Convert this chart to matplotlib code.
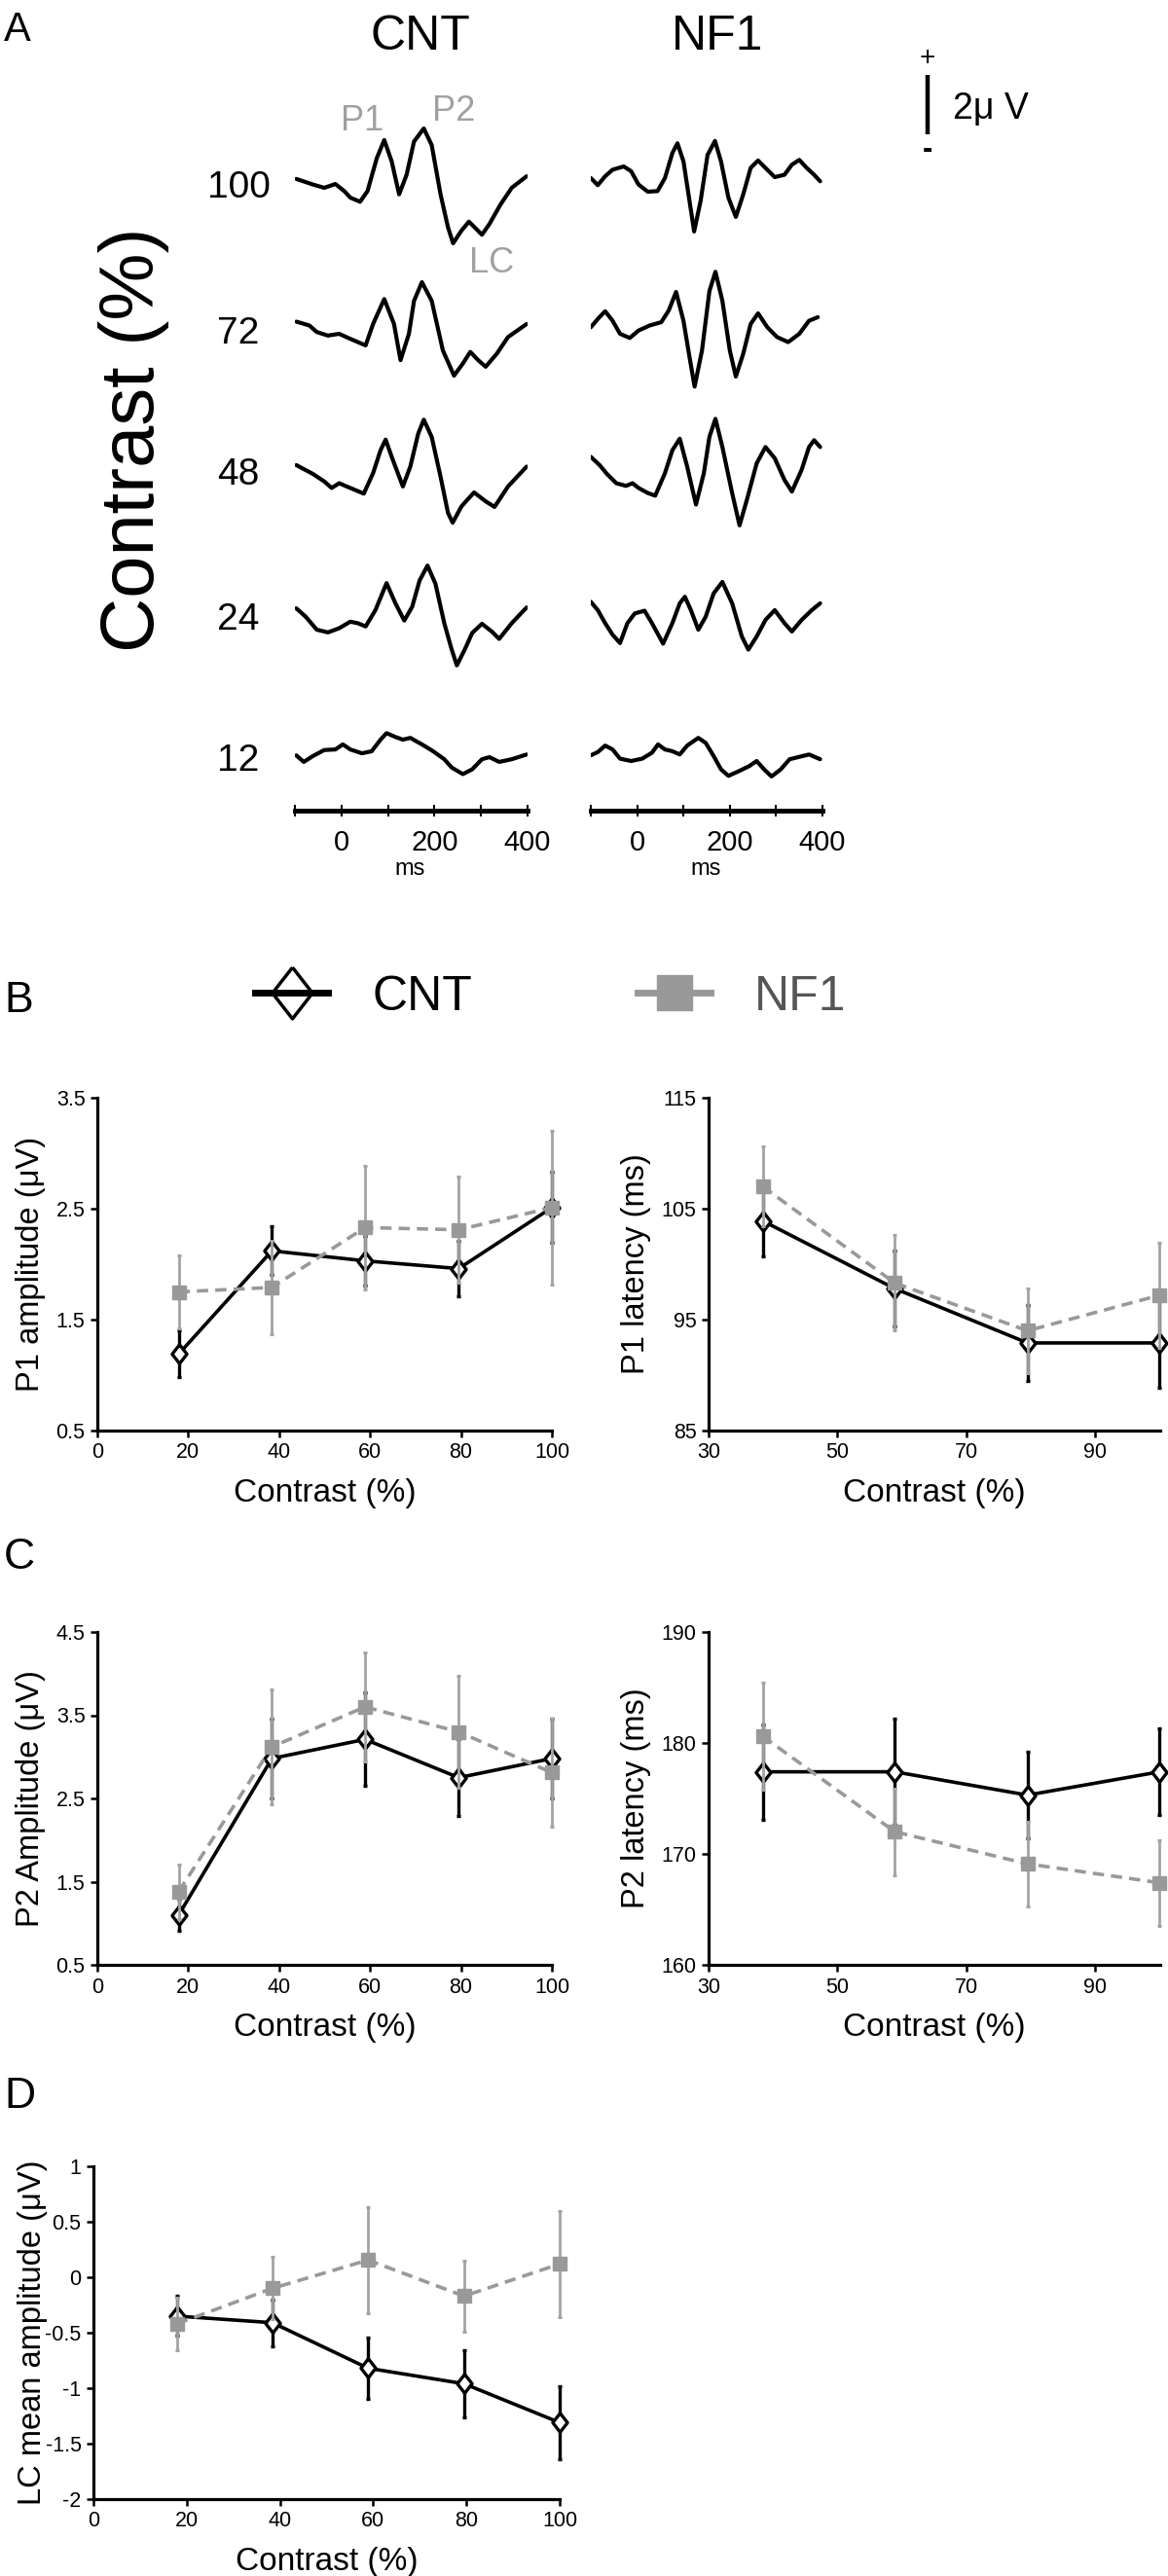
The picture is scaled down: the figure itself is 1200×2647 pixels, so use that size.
import matplotlib
matplotlib.use("Agg")
import matplotlib.pyplot as plt
from matplotlib.lines import Line2D

plt.rcParams['font.family'] = ['Liberation Sans', 'DejaVu Sans']
plt.rcParams['axes.unicode_minus'] = False

# ---------------- DATA ----------------
# Panel A: grand-average waveforms, (time ms, amplitude uV)
contrast_levels = ['100', '72', '48', '24', '12']
CNT_100 = [(-97, 0.30), (-61, 0.11), (-37, 0.0), (-13, 0.13), (6, -0.11), (19, -0.33), (40, -0.47), (56, -0.11),
           (76, 1.0), (92, 1.61), (108, 0.89), (124, -0.22), (140, 0.44), (156, 1.56), (177, 2.0), (194, 1.44),
           (213, -0.22), (229, -1.33), (240, -1.87), (258, -1.44), (274, -1.14), (290, -1.39), (302, -1.58),
           (318, -1.22), (342, -0.56), (366, 0.0), (398, 0.39)]
CNT_72 = [(-97, 0.41), (-69, 0.28), (-53, 0.06), (-29, -0.06), (-5, 0.0), (19, -0.17), (52, -0.39), (68, 0.33),
          (92, 1.17), (113, 0.33), (127, -0.89), (145, 0.0), (156, 1.11), (173, 1.74), (194, 1.11), (218, -0.56),
          (242, -1.41), (261, -1.0), (277, -0.61), (294, -0.89), (310, -1.11), (334, -0.67), (358, -0.11),
          (398, 0.33)]
CNT_48 = [(-97, 0.33), (-61, 0.03), (-37, -0.22), (-21, -0.44), (-5, -0.28), (19, -0.44), (48, -0.63), (68, 0.06),
          (84, 0.83), (95, 1.19), (108, 0.61), (132, -0.39), (148, 0.28), (165, 1.39), (177, 1.86), (194, 1.28),
          (213, -0.06), (229, -1.28), (239, -1.61), (258, -1.06), (285, -0.59), (310, -0.89), (329, -1.08),
          (358, -0.39), (398, 0.28)]
CNT_24 = [(-97, 0.39), (-77, 0.11), (-53, -0.33), (-29, -0.42), (-5, -0.28), (19, -0.06), (35, -0.11), (52, -0.22),
          (73, 0.33), (97, 1.24), (116, 0.56), (135, -0.02), (152, 0.44), (168, 1.33), (185, 1.83), (202, 1.22),
          (221, -0.11), (237, -1.0), (248, -1.53), (265, -1.0), (281, -0.44), (302, -0.13), (323, -0.39),
          (339, -0.64), (366, -0.11), (398, 0.42)]
CNT_12 = [(-97, 0.19), (-81, -0.03), (-61, 0.17), (-37, 0.37), (-13, 0.39), (3, 0.56), (19, 0.39), (44, 0.26),
          (65, 0.33), (84, 0.72), (97, 0.94), (116, 0.81), (132, 0.72), (148, 0.78), (173, 0.56), (197, 0.33),
          (221, 0.06), (237, -0.22), (261, -0.44), (281, -0.28), (302, 0.06), (318, 0.13), (339, -0.03),
          (366, 0.06), (398, 0.22)]
NF1_100 = [(-100, 0.33), (-85, 0.09), (-69, 0.39), (-53, 0.61), (-29, 0.72), (-13, 0.56), (3, 0.11), (23, -0.13),
           (44, -0.11), (60, 0.33), (76, 1.17), (87, 1.5), (100, 0.89), (113, -0.44), (123, -1.47), (137, -0.44),
           (152, 1.11), (168, 1.58), (181, 0.89), (197, -0.33), (213, -0.98), (229, -0.22), (245, 0.67),
           (261, 0.92), (277, 0.67), (297, 0.36), (318, 0.44), (334, 0.78), (350, 0.94), (366, 0.67),
           (382, 0.44), (395, 0.22)]
NF1_72 = [(-100, 0.22), (-85, 0.5), (-69, 0.76), (-53, 0.44), (-37, 0.0), (-16, -0.14), (3, 0.11), (27, 0.28),
          (52, 0.39), (68, 0.78), (84, 1.41), (100, 0.44), (113, -0.78), (124, -1.78), (140, -0.56), (156, 1.44),
          (169, 2.09), (184, 1.11), (200, -0.56), (213, -1.44), (229, -0.67), (245, 0.33), (261, 0.69),
          (281, 0.22), (302, -0.11), (326, -0.28), (350, 0.0), (371, 0.44), (390, 0.56)]
NF1_48 = [(-100, 0.61), (-81, 0.33), (-65, 0.03), (-45, -0.28), (-24, -0.37), (-10, -0.28), (3, -0.44),
          (23, -0.61), (39, -0.7), (60, 0.06), (76, 0.83), (92, 1.22), (108, 0.28), (127, -1.0), (144, 0.06),
          (156, 1.28), (169, 1.89), (184, 0.94), (205, -0.61), (221, -1.7), (237, -0.83), (258, 0.39),
          (277, 0.94), (297, 0.56), (318, -0.17), (334, -0.56), (355, 0.17), (371, 0.94), (382, 1.17),
          (395, 0.94)]
NF1_24 = [(-100, 0.61), (-85, 0.33), (-69, -0.11), (-53, -0.5), (-37, -0.78), (-21, -0.11), (-5, 0.22),
          (16, 0.31), (32, -0.11), (56, -0.8), (76, -0.11), (92, 0.56), (103, 0.78), (116, 0.33), (132, -0.33),
          (148, 0.11), (165, 0.89), (184, 1.28), (205, 0.56), (226, -0.56), (240, -1.0), (258, -0.56),
          (277, 0.0), (297, 0.33), (318, -0.11), (334, -0.39), (355, 0.0), (377, 0.33), (395, 0.56)]
NF1_12 = [(-100, 0.19), (-85, 0.3), (-69, 0.52), (-53, 0.39), (-37, 0.08), (-13, 0.0), (11, 0.08), (32, 0.28),
          (45, 0.56), (60, 0.39), (76, 0.33), (92, 0.22), (108, 0.52), (132, 0.78), (148, 0.61), (165, 0.17),
          (181, -0.28), (197, -0.5), (221, -0.33), (242, -0.17), (258, 0.0), (274, -0.28), (290, -0.52),
          (310, -0.28), (329, 0.06), (350, 0.14), (371, 0.22), (395, 0.06)]
cnt_waves = [CNT_100, CNT_72, CNT_48, CNT_24, CNT_12]
nf1_waves = [NF1_100, NF1_72, NF1_48, NF1_24, NF1_12]
time_ticks = [-100, 0, 100, 200, 300, 400]
time_labels = ['', '0', '', '200', '', '400']

# Panels B-D
x_amp = [17.9, 38.4, 58.9, 79.5, 100]
x_lat = [38.4, 58.9, 79.5, 100]

p1_amp_cnt = [1.19, 2.12, 2.03, 1.96, 2.51]
p1_amp_cnt_err = [0.21, 0.22, 0.22, 0.25, 0.32]
p1_amp_nf1 = [1.75, 1.79, 2.33, 2.31, 2.51]
p1_amp_nf1_err = [0.33, 0.42, 0.56, 0.48, 0.69]

p1_lat_cnt = [103.9, 97.8, 92.9, 92.9]
p1_lat_cnt_err = [3.2, 3.4, 3.4, 4.0]
p1_lat_nf1 = [107.0, 98.3, 94.0, 97.2]
p1_lat_nf1_err = [3.6, 4.3, 3.8, 4.7]

p2_amp_cnt = [1.10, 2.98, 3.21, 2.75, 2.98]
p2_amp_cnt_err = [0.19, 0.48, 0.56, 0.46, 0.48]
p2_amp_nf1 = [1.38, 3.12, 3.60, 3.30, 2.81]
p2_amp_nf1_err = [0.33, 0.69, 0.66, 0.67, 0.65]

p2_lat_cnt = [177.4, 177.4, 175.3, 177.4]
p2_lat_cnt_err = [4.3, 4.8, 3.9, 3.9]
p2_lat_nf1 = [180.6, 172.0, 169.1, 167.4]
p2_lat_nf1_err = [4.8, 3.9, 3.8, 3.85]

lc_cnt = [-0.35, -0.41, -0.82, -0.96, -1.31]
lc_cnt_err = [0.18, 0.21, 0.28, 0.30, 0.33]
lc_nf1 = [-0.42, -0.10, 0.155, -0.17, 0.12]
lc_nf1_err = [0.24, 0.28, 0.48, 0.32, 0.48]

# ---------------- LAYOUT ----------------
W, H = 1200, 2647
fig = plt.figure(figsize=(W / 100, H / 100), dpi=100)


def rect(l, t, r, b):
    return [l / W, 1 - b / H, (r - l) / W, (b - t) / H]


def fx(x):
    return x / W


def fy(y):
    return 1 - y / H


GRAY = '#999999'
DIAMOND = [(0, 1), (0.78, 0), (0, -1), (-0.78, 0), (0, 1)]

# ---------- Panel A ----------
PX_PER_UV = 30.5
row_y = [193, 343, 488, 637, 782]
cols = [(303, 542, cnt_waves), (607, 845, nf1_waves)]
half = 75
for l, r, waves in cols:
    for y0, wave in zip(row_y, waves):
        ax = fig.add_axes(rect(l, y0 - half, r, y0 + half))
        t = [p[0] for p in wave]
        v = [p[1] for p in wave]
        ax.plot(t, v, color='black', lw=3.0, solid_joinstyle='round', solid_capstyle='round')
        ax.set_xlim(-100, 400)
        ax.set_ylim(-half / PX_PER_UV, half / PX_PER_UV)
        ax.axis('off')
    tax = fig.add_axes(rect(l, 800, r, 833))
    tax.set_xlim(-100, 400)
    tax.set_yticks([])
    for s in ['top', 'right', 'left']:
        tax.spines[s].set_visible(False)
    tax.spines['bottom'].set_linewidth(3.5)
    tax.patch.set_alpha(0)
    tax.set_xticks(time_ticks)
    tax.set_xticklabels(time_labels)
    tax.tick_params(axis='x', direction='inout', length=8, width=1.5, labelsize=21, pad=10)
    fig.text(fx((l + r) / 2 - 1), fy(893), 'ms', fontsize=17, ha='center', va='center')

# scale bar (2 uV)
sax = fig.add_axes(rect(938, 77, 968, 77 + 2 * PX_PER_UV))
sax.plot([0.5, 0.5], [0, 2], color='black', lw=3.2, solid_capstyle='butt')
sax.set_xlim(0, 1)
sax.set_ylim(0, 2)
sax.axis('off')
fig.text(fx(953), fy(60), '+', fontsize=20, ha='center', va='center')
fig.text(fx(953), fy(154), '-', fontsize=22, ha='center', va='center', fontweight='bold')
fig.text(fx(979), fy(112), '2\u03bc V', fontsize=27, ha='left', va='center')

fig.text(fx(4), fy(31), 'A', fontsize=30, ha='left', va='center')
fig.text(fx(432), fy(38), 'CNT', fontsize=36, ha='center', va='center')
fig.text(fx(737), fy(38), 'NF1', fontsize=36, ha='center', va='center')
for lab, y0 in zip(contrast_levels, row_y):
    fig.text(fx(245), fy(y0), lab, fontsize=28, ha='center', va='center')
fig.text(fx(137), fy(452), 'Contrast (%)', fontsize=56, rotation=90, ha='center', va='center')
fig.text(fx(372), fy(125), 'P1', fontsize=26, color='#a0a0a0', ha='center', va='center')
fig.text(fx(466), fy(115), 'P2', fontsize=26, color='#a0a0a0', ha='center', va='center')
fig.text(fx(505), fy(271), 'LC', fontsize=26, color='#a0a0a0', ha='center', va='center')

# ---------- Panels B-D ----------


def draw(ax, x_c, y_c, e_c, x_n, y_n, e_n):
    ax.errorbar(x_c, y_c, yerr=e_c, color='black', lw=2.6, marker=DIAMOND, ms=14, mfc='white',
                mec='black', mew=2.4, ecolor='black', elinewidth=2.4, capsize=1.5, capthick=2.5,
                zorder=3, clip_on=False)
    ax.errorbar(x_n, y_n, yerr=e_n, color=GRAY, lw=2.6, ls=(0, (3.2, 2)), marker='s', ms=10.5, mfc=GRAY,
                mec=GRAY, ecolor='#a3a3a3', elinewidth=2.0, capsize=1.5, capthick=2.2,
                zorder=4, clip_on=False)


def style(ax, xlim, ylim, xticks, yticks, ylabel, ylabel_x, ytick_labels=None):
    ax.set_xlim(*xlim)
    ax.set_ylim(*ylim)
    ax.set_xticks(xticks)
    ax.set_yticks(yticks)
    if ytick_labels is not None:
        ax.set_yticklabels(ytick_labels)
    for s in ['top', 'right']:
        ax.spines[s].set_visible(False)
    for s in ['left', 'bottom']:
        ax.spines[s].set_linewidth(2.3)
    ax.tick_params(direction='out', length=5, width=1.8, labelsize=15.5, pad=4)
    ax.set_xlabel('Contrast (%)', fontsize=24)
    ax.xaxis.set_label_coords(0.5, -0.19)
    ax.xaxis.label.set_va('center')
    ax.set_ylabel(ylabel, fontsize=23.5)
    ax.yaxis.set_label_coords(ylabel_x, 0.5)
    ax.yaxis.label.set_va('center')


# B
axB1 = fig.add_axes(rect(100, 1128, 567, 1470))
draw(axB1, x_amp, p1_amp_cnt, p1_amp_cnt_err, x_amp, p1_amp_nf1, p1_amp_nf1_err)
style(axB1, (0, 100), (0.5, 3.5), [0, 20, 40, 60, 80, 100], [0.5, 1.5, 2.5, 3.5],
      'P1 amplitude (\u03bcV)', -0.146)

axB2 = fig.add_axes(rect(728, 1128, 1192, 1470))
draw(axB2, x_lat, p1_lat_cnt, p1_lat_cnt_err, x_lat, p1_lat_nf1, p1_lat_nf1_err)
style(axB2, (30, 100.1), (85, 115), [30, 50, 70, 90], [85, 95, 105, 115],
      'P1 latency (ms)', -0.16)

# C
axC1 = fig.add_axes(rect(100, 1677, 567, 2019))
draw(axC1, x_amp, p2_amp_cnt, p2_amp_cnt_err, x_amp, p2_amp_nf1, p2_amp_nf1_err)
style(axC1, (0, 100), (0.5, 4.5), [0, 20, 40, 60, 80, 100], [0.5, 1.5, 2.5, 3.5, 4.5],
      'P2 Amplitude (\u03bcV)', -0.146)

axC2 = fig.add_axes(rect(728, 1677, 1192, 2019))
draw(axC2, x_lat, p2_lat_cnt, p2_lat_cnt_err, x_lat, p2_lat_nf1, p2_lat_nf1_err)
style(axC2, (30, 100.1), (160, 190), [30, 50, 70, 90], [160, 170, 180, 190],
      'P2 latency (ms)', -0.16)

# D
axD = fig.add_axes(rect(96, 2226, 575, 2568))
draw(axD, x_amp, lc_cnt, lc_cnt_err, x_amp, lc_nf1, lc_nf1_err)
style(axD, (0, 100), (-2, 1), [0, 20, 40, 60, 80, 100], [-2, -1.5, -1, -0.5, 0, 0.5, 1],
      'LC mean amplitude (\u03bcV)', -0.131,
      ['-2', '-1.5', '-1', '-0.5', '0', '0.5', '1'])

# panel letters
fig.text(fx(4), fy(1028), 'B', fontsize=32, ha='left', va='center')
fig.text(fx(4), fy(1600), 'C', fontsize=32, ha='left', va='center')
fig.text(fx(4), fy(2155), 'D', fontsize=32, ha='left', va='center')

# legend
h_cnt = Line2D([0], [0], color='black', lw=5, marker=DIAMOND, ms=38, mfc='none', mec='black', mew=2.5)
h_nf1 = Line2D([0], [0], color=GRAY, lw=5, marker='s', ms=26, mfc=GRAY, mec=GRAY)
leg = fig.legend([h_cnt, h_nf1], ['CNT', 'NF1'], loc='center', bbox_to_anchor=(fx(566), fy(1025)),
                 ncol=2, frameon=False, fontsize=36, handlelength=1.5, handletextpad=0.9,
                 columnspacing=3.4, numpoints=1)
leg.get_texts()[1].set_color('#555555')

fig.savefig('out.png', dpi=100, facecolor='white')
